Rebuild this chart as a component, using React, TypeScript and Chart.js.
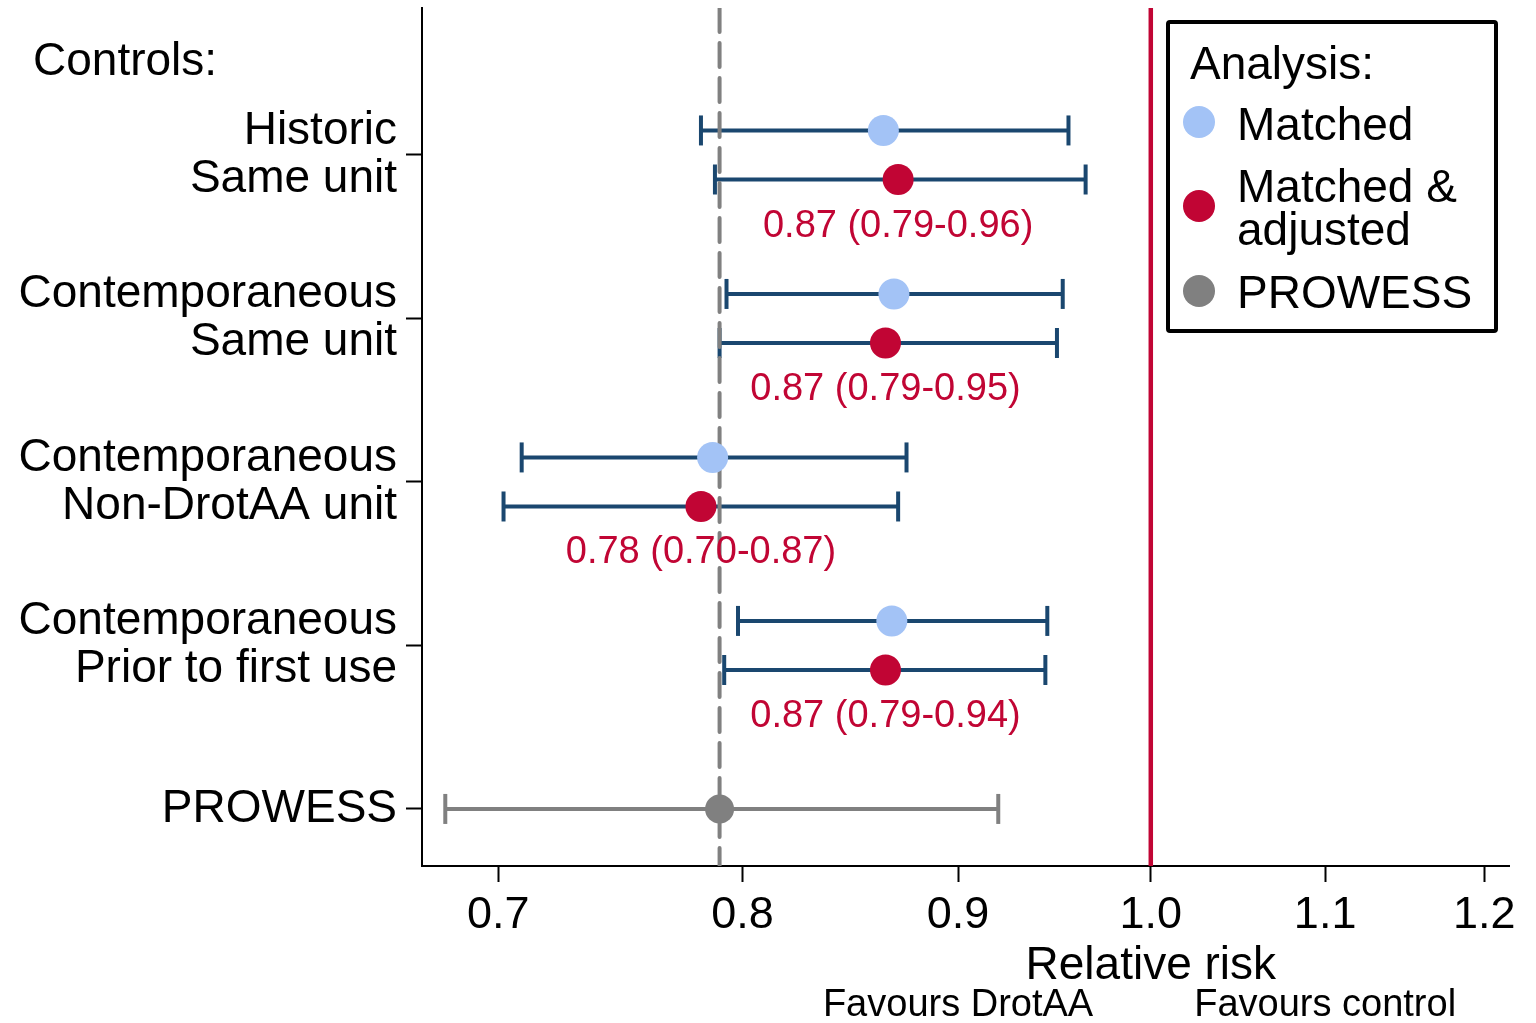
import React, { useEffect, useRef } from 'react';
import { Chart, registerables } from 'chart.js';

Chart.register(...registerables);

const FONT = "'Liberation Sans', Arial, Helvetica, sans-serif";

// ---- data ----
const groupLabels: string[][] = [
  ['Historic', 'Same unit'],
  ['Contemporaneous', 'Same unit'],
  ['Contemporaneous', 'Non-DrotAA unit'],
  ['Contemporaneous', 'Prior to first use'],
  ['PROWESS'],
];
const groupPositions = [1, 2, 3, 4, 5];

const matchedRR = [0.864, 0.869, 0.787, 0.868];
const matchedLo = [0.782, 0.793, 0.709, 0.798];
const matchedHi = [0.956, 0.953, 0.875, 0.945];

const adjustedRR = [0.871, 0.865, 0.782, 0.865];
const adjustedLo = [0.788, 0.790, 0.702, 0.792];
const adjustedHi = [0.965, 0.950, 0.871, 0.944];
const adjustedLabels = ['0.87 (0.79-0.96)', '0.87 (0.79-0.95)', '0.78 (0.70-0.87)', '0.87 (0.79-0.94)'];

const prowessRR = [0.790];
const prowessLo = [0.680];
const prowessHi = [0.920];

const xTicks = [0.7, 0.8, 0.9, 1.0, 1.1, 1.2];
const nullLineValue = 1.0;
const referenceLineValue = 0.79;

const controlsTitle = 'Controls:';
const xTitle = 'Relative risk';
const favourLabels = ['Favours DrotAA', 'Favours control'];
const favourPositions = [0.9, 1.1];

const legendTitle = 'Analysis:';
const legendLabels: string[][] = [['Matched'], ['Matched &', 'adjusted'], ['PROWESS']];

// ---- styles ----
const NAVY = '#1a476f';
const LIGHTBLUE = '#a3c3f6';
const RED = '#c10534';
const GRAY = '#808080';
const legendColors = [LIGHTBLUE, RED, GRAY];

const Y_MIN = 0.101;
const Y_MAX = 5.349;
const ROW_OFFSET = 0.15;

function ciDataset(lo: number, hi: number, y: number, color: string) {
  return {
    type: 'scatter' as const,
    data: [{ x: lo, y }, { x: hi, y }],
    showLine: true,
    borderColor: color,
    borderWidth: 4,
    pointStyle: 'line',
    pointRotation: 90,
    pointRadius: 15,
    pointBorderColor: color,
    pointBorderWidth: 4,
    order: 2,
  };
}

export default function App() {
  const ref = useRef<HTMLCanvasElement>(null);

  useEffect(() => {
    const canvas = ref.current;
    if (!canvas) return;

    const datasets: any[] = [];
    for (let i = 0; i < matchedRR.length; i++) {
      datasets.push(ciDataset(matchedLo[i], matchedHi[i], groupPositions[i] - ROW_OFFSET, NAVY));
      datasets.push(ciDataset(adjustedLo[i], adjustedHi[i], groupPositions[i] + ROW_OFFSET, NAVY));
    }
    for (let i = 0; i < prowessRR.length; i++) {
      datasets.push(ciDataset(prowessLo[i], prowessHi[i], groupPositions[4 + i], GRAY));
    }
    datasets.push({
      type: 'scatter',
      data: matchedRR.map((v, i) => ({ x: v, y: groupPositions[i] - ROW_OFFSET })),
      pointRadius: 15.5,
      pointBackgroundColor: LIGHTBLUE,
      pointBorderWidth: 0,
      order: 0,
    });
    datasets.push({
      type: 'scatter',
      data: adjustedRR.map((v, i) => ({ x: v, y: groupPositions[i] + ROW_OFFSET })),
      pointRadius: 15.5,
      pointBackgroundColor: RED,
      pointBorderWidth: 0,
      order: 0,
    });
    datasets.push({
      type: 'scatter',
      data: prowessRR.map((v, i) => ({ x: v, y: groupPositions[4 + i] })),
      pointRadius: 14.5,
      pointBackgroundColor: GRAY,
      pointBorderWidth: 0,
      order: 0,
    });
    datasets.push({
      type: 'scatter',
      data: [{ x: referenceLineValue, y: Y_MIN }, { x: referenceLineValue, y: Y_MAX }],
      showLine: true,
      borderColor: GRAY,
      borderWidth: 4,
      borderDash: [24, 11],
      borderCapStyle: 'round',
      pointRadius: 0,
      order: 1,
    });
    datasets.push({
      type: 'scatter',
      data: [{ x: nullLineValue, y: Y_MIN }, { x: nullLineValue, y: Y_MAX }],
      showLine: true,
      borderColor: RED,
      borderWidth: 4.5,
      pointRadius: 0,
      order: 3,
    });

    const textPlugin = {
      id: 'forestText',
      afterDraw(chart: any) {
        const ctx = chart.ctx as CanvasRenderingContext2D;
        const xs = chart.scales.x;
        const ys = chart.scales.y;
        ctx.save();
        ctx.fillStyle = '#000';
        ctx.textBaseline = 'alphabetic';

        // Controls:
        ctx.font = `46px ${FONT}`;
        ctx.textAlign = 'left';
        ctx.fillText(controlsTitle, 33, 75);

        // estimate labels
        ctx.font = `38px ${FONT}`;
        ctx.textAlign = 'center';
        ctx.fillStyle = RED;
        for (let i = 0; i < adjustedLabels.length; i++) {
          const px = xs.getPixelForValue(adjustedRR[i]);
          const py = ys.getPixelForValue(groupPositions[i] + ROW_OFFSET);
          ctx.fillText(adjustedLabels[i], px, py + 57);
        }

        // x title and favours labels
        ctx.fillStyle = '#000';
        ctx.font = `46px ${FONT}`;
        ctx.fillText(xTitle, xs.getPixelForValue(nullLineValue), 979);
        ctx.font = `38px ${FONT}`;
        for (let i = 0; i < favourLabels.length; i++) {
          ctx.fillText(favourLabels[i], xs.getPixelForValue(favourPositions[i]), 1016);
        }

        // legend
        ctx.lineWidth = 4;
        ctx.strokeStyle = '#000';
        ctx.beginPath();
        if ((ctx as any).roundRect) (ctx as any).roundRect(1168, 22, 328, 309, 2);
        else ctx.rect(1168, 22, 328, 309);
        ctx.stroke();
        ctx.font = `46px ${FONT}`;
        ctx.textAlign = 'left';
        ctx.fillText(legendTitle, 1190, 79);
        const markerY = [122, 206, 291];
        const baselines = [[140], [202, 245], [308]];
        for (let i = 0; i < legendLabels.length; i++) {
          ctx.fillStyle = legendColors[i];
          ctx.beginPath();
          ctx.arc(1199, markerY[i], 16, 0, Math.PI * 2);
          ctx.fill();
          ctx.fillStyle = '#000';
          legendLabels[i].forEach((line, j) => ctx.fillText(line, 1237, baselines[i][j]));
        }
        ctx.restore();
      },
    };

    const chart = new Chart(canvas, {
      type: 'scatter',
      data: { datasets },
      options: {
        responsive: false,
        animation: false,
        events: [],
        devicePixelRatio: 1,
        layout: { autoPadding: false, padding: { top: 8, right: 27, left: 0, bottom: 0 } },
        plugins: { legend: { display: false }, tooltip: { enabled: false } },
        scales: {
          x: {
            type: 'logarithmic',
            min: 0.6714,
            max: 1.2163,
            bounds: 'data',
            afterBuildTicks: (s: any) => {
              s.ticks = xTicks.map((v) => ({ value: v }));
            },
            afterFit: (s: any) => {
              s.height = 157;
              s.paddingLeft = 0;
              s.paddingRight = 0;
            },
            ticks: {
              callback: (v: any) => Number(v).toFixed(1),
              font: { size: 45, family: FONT },
              color: '#000',
              padding: 7,
              autoSkip: false,
              maxRotation: 0,
              minRotation: 0,
            },
            grid: { drawOnChartArea: false, drawTicks: true, tickLength: 16, tickWidth: 2, tickColor: '#000' },
            border: { display: true, color: '#000', width: 2 },
          },
          y: {
            type: 'linear',
            reverse: true,
            min: Y_MIN,
            max: Y_MAX,
            bounds: 'data',
            afterBuildTicks: (s: any) => {
              s.ticks = groupPositions.map((v) => ({ value: v }));
            },
            afterFit: (s: any) => {
              s.width = 422;
              s.paddingTop = 0;
              s.paddingBottom = 0;
            },
            ticks: {
              callback: (v: any) => {
                const i = groupPositions.indexOf(Number(v));
                return i >= 0 ? groupLabels[i] : '';
              },
              font: { size: 46, family: FONT, lineHeight: '48px' },
              color: '#000',
              padding: 9,
              autoSkip: false,
            },
            grid: { drawOnChartArea: false, drawTicks: true, tickLength: 16, tickWidth: 2, tickColor: '#000' },
            border: { display: true, color: '#000', width: 2 },
          },
        },
      } as any,
      plugins: [textPlugin],
    });

    return () => chart.destroy();
  }, []);

  return (
    <div style={{ position: 'absolute', left: 0, top: 0, width: 1536, height: 1023, background: '#fff' }}>
      <canvas ref={ref} width={1536} height={1023} style={{ display: 'block', width: 1536, height: 1023 }} />
    </div>
  );
}
